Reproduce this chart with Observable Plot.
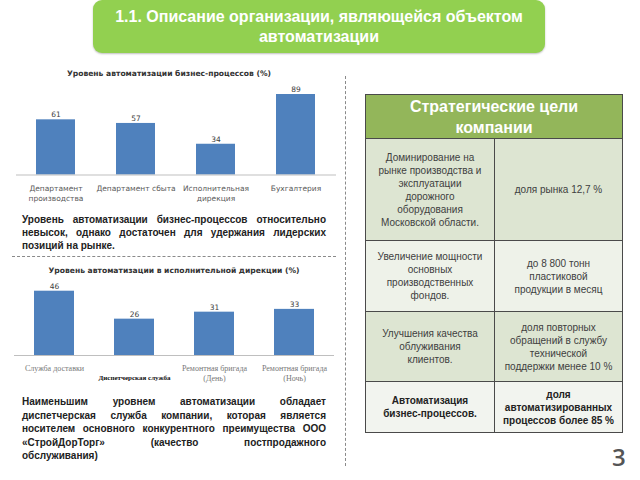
<!DOCTYPE html>
<html><head><meta charset="utf-8">
<script src="https://cdn.jsdelivr.net/npm/d3@7"></script>
<script src="https://cdn.jsdelivr.net/npm/@observablehq/plot@0.6"></script>
<style>
html,body{margin:0;padding:0;background:#fff;}
#page{position:relative;width:640px;height:480px;overflow:hidden;font-family:"Liberation Sans",Arial,sans-serif;}
.abs{position:absolute;}
#banner{left:93px;top:0;width:452px;height:53px;background:#92d050;border-radius:9px;box-shadow:0 1px 2px rgba(0,0,0,0.25);color:#fff;font-weight:bold;font-size:16px;line-height:20px;text-align:center;box-sizing:border-box;padding-top:7px;}
.ctitle{font-family:"DejaVu Sans",sans-serif;font-weight:bold;font-size:7.6px;color:#333;text-align:center;white-space:nowrap;}
.para{font-weight:bold;font-size:10px;line-height:13px;color:#222;width:304px;}
.para div{text-align:justify;text-align-last:justify;white-space:nowrap;}
.para div.last{text-align-last:left;}
#tbl{left:365px;top:94px;border-collapse:collapse;font-size:10px;color:#404040;}
#tbl td,#tbl th{border:1.2px solid #4a4a4a;text-align:center;vertical-align:middle;padding:0 2px;line-height:13px;}
#tbl th{background:#93b65a;color:#fff;font-size:16px;line-height:21px;font-weight:bold;}
.hline{left:12px;top:256px;width:324px;border-top:1px dashed #8a8a8a;}
.vline{left:345px;top:76px;height:390px;border-left:1px dashed #8a8a8a;}
#pnum{left:612px;top:440px;font-size:24px;color:#555;font-family:"Open Sans",sans-serif;font-weight:600;}
</style></head>
<body><div id="page">
<div id="banner" class="abs"></div>
<div id="t1" class="abs ctitle" style="left:0;width:338px;top:69px;"></div>
<div id="c1" class="abs" style="left:0;top:80px;"></div>
<div id="p1" class="abs para" style="left:22px;top:213px;"></div>
<div class="abs hline"></div>
<div id="t2" class="abs ctitle" style="left:0;width:348px;top:266px;"></div>
<div id="c2" class="abs" style="left:0;top:278px;"></div>
<div id="p2" class="abs para" style="left:22px;top:395px;line-height:13.5px;"></div>
<div class="abs vline"></div>
<table id="tbl" class="abs"></table>
<div id="pnum" class="abs"></div>
</div>
<script>
const bannerLines = ["1.1. Описание организации, являющейся объектом", "автоматизации"];

const chart1Title = "Уровень автоматизации бизнес-процессов (%)";
const chart1Cats = ["Департамент\nпроизводства", "Департамент сбыта", "Исполнительная\nдирекция", "Бухгалтерия"];
const chart1Vals = [61, 57, 34, 89];

const chart2Title = "Уровень автоматизации в исполнительной дирекции (%)";
const chart2Cats = ["Служба доставки", "", "Ремонтная бригада\n(День)", "Ремонтная бригада\n(Ночь)"];
const chart2Vals = [46, 26, 31, 33];
const chart2Note = ["", "Диспетчерская служба", "", ""];

const para1 = ["Уровень автоматизации бизнес-процессов относительно", "невысок, однако достаточен для удержания лидерских", "позиций на рынке."];
const para2 = ["Наименьшим уровнем автоматизации обладает", "диспетчерская служба компании, которая является", "носителем основного конкурентного преимущества ООО", "«СтройДорТорг» (качество постпродажного", "обслуживания)"];

const tableHeader = ["Стратегические цели", "компании"];
const goals = [
  ["Доминирование на", "рынке производства и", "эксплуатации", "дорожного", "оборудования", "Московской области."],
  ["Увеличение мощности", "основных", "производственных", "фондов."],
  ["Улучшения качества", "облуживания", "клиентов."],
  ["Автоматизация", "бизнес-процессов."]
];
const targets = [
  ["доля рынка 12,7 %"],
  ["до 8 800 тонн", "пластиковой", "продукции в месяц"],
  ["доля повторных", "обращений в службу", "технической", "поддержки менее 10 %"],
  ["доля", "автоматизированных", "процессов более 85 %"]
];
const boldRow = [false, false, false, true];
const rowFills = ["#dde5d2", "#eef2e9", "#dde5d2", "#f2f4ef"];
const rowHeights = [102, 71, 70, 51];
const pageNumber = "3";

document.getElementById("banner").innerHTML = bannerLines.join("<br>");
document.getElementById("t1").textContent = chart1Title;
document.getElementById("t2").textContent = chart2Title;
function fillPara(id, lines){
  const el = document.getElementById(id);
  lines.forEach((l,i)=>{const d=document.createElement("div"); d.textContent=l; if(i===lines.length-1) d.className="last"; el.appendChild(d);});
}
fillPara("p1", para1);
fillPara("p2", para2);

const tbl = document.getElementById("tbl");
tbl.innerHTML = `<tr style="height:44px"><th colspan="2">${tableHeader.join("<br>")}</th></tr>` +
  goals.map((g,i)=>`<tr style="height:${rowHeights[i]}px;background:${rowFills[i]};${boldRow[i]?"font-weight:bold;color:#222;":""}"><td style="width:124px">${g.join("<br>")}</td><td style="width:123px">${targets[i].join("<br>")}</td></tr>`).join("");
document.getElementById("pnum").textContent = pageNumber;

const blue = "#4f81bd";
const d1 = chart1Cats.map((c,i)=>({cat:c, v:chart1Vals[i]}));
const p1 = Plot.plot({
  width: 340, height: 130,
  marginLeft: 16, marginRight: 4, marginTop: 14, marginBottom: 35.5,
  style: {fontFamily: "DejaVu Sans, sans-serif", fontSize: "7.5px", color: "#555", background: "transparent"},
  x: {domain: chart1Cats, paddingInner: 0.51, paddingOuter: 0.255, axis: null},
  y: {domain: [0, d3.max(chart1Vals)], axis: null},
  marks: [
    Plot.barY(d1, {x: "cat", y: "v", fill: blue}),
    Plot.ruleY([0], {stroke: "#bfbfbf"}),
    Plot.text(d1, {x: "cat", y: "v", text: d => String(d.v), dy: -5, fill: "#404040", fontSize: 7.5}),
    Plot.axisX({tickSize: 0, tickPadding: 9, lineHeight: 1.3, fontSize: 7.5, fill: "#595959", label: null})
  ]
});
document.getElementById("c1").appendChild(p1);

const d2 = chart2Cats.map((c,i)=>({cat:c, v:chart2Vals[i], note:chart2Note[i]}));
const p2 = Plot.plot({
  width: 340, height: 112,
  marginLeft: 14, marginRight: 6, marginTop: 12.7, marginBottom: 35,
  style: {fontFamily: "Liberation Serif, serif", fontSize: "8px", color: "#666", background: "transparent"},
  x: {domain: chart2Cats, paddingInner: 0.5, paddingOuter: 0.25, axis: null},
  y: {domain: [0, d3.max(chart2Vals)], axis: null},
  marks: [
    Plot.barY(d2, {x: "cat", y: "v", fill: blue}),
    Plot.ruleY([0], {stroke: "#bfbfbf"}),
    Plot.text(d2, {x: "cat", y: "v", text: d => String(d.v), dy: -5, fill: "#404040", fontSize: 7.5, fontFamily: "DejaVu Sans, sans-serif"}),
    Plot.axisX({tickSize: 0, tickPadding: 8, lineHeight: 1.25, fontSize: 8, fill: "#777", label: null}),
    Plot.text(d2.filter(d => d.note), {x: "cat", y: 0, text: "note", dy: 22, fill: "#111", fontWeight: "bold", fontSize: 7, fontFamily: "Liberation Serif, serif"})
  ]
});
document.getElementById("c2").appendChild(p2);
</script>
</body></html>
